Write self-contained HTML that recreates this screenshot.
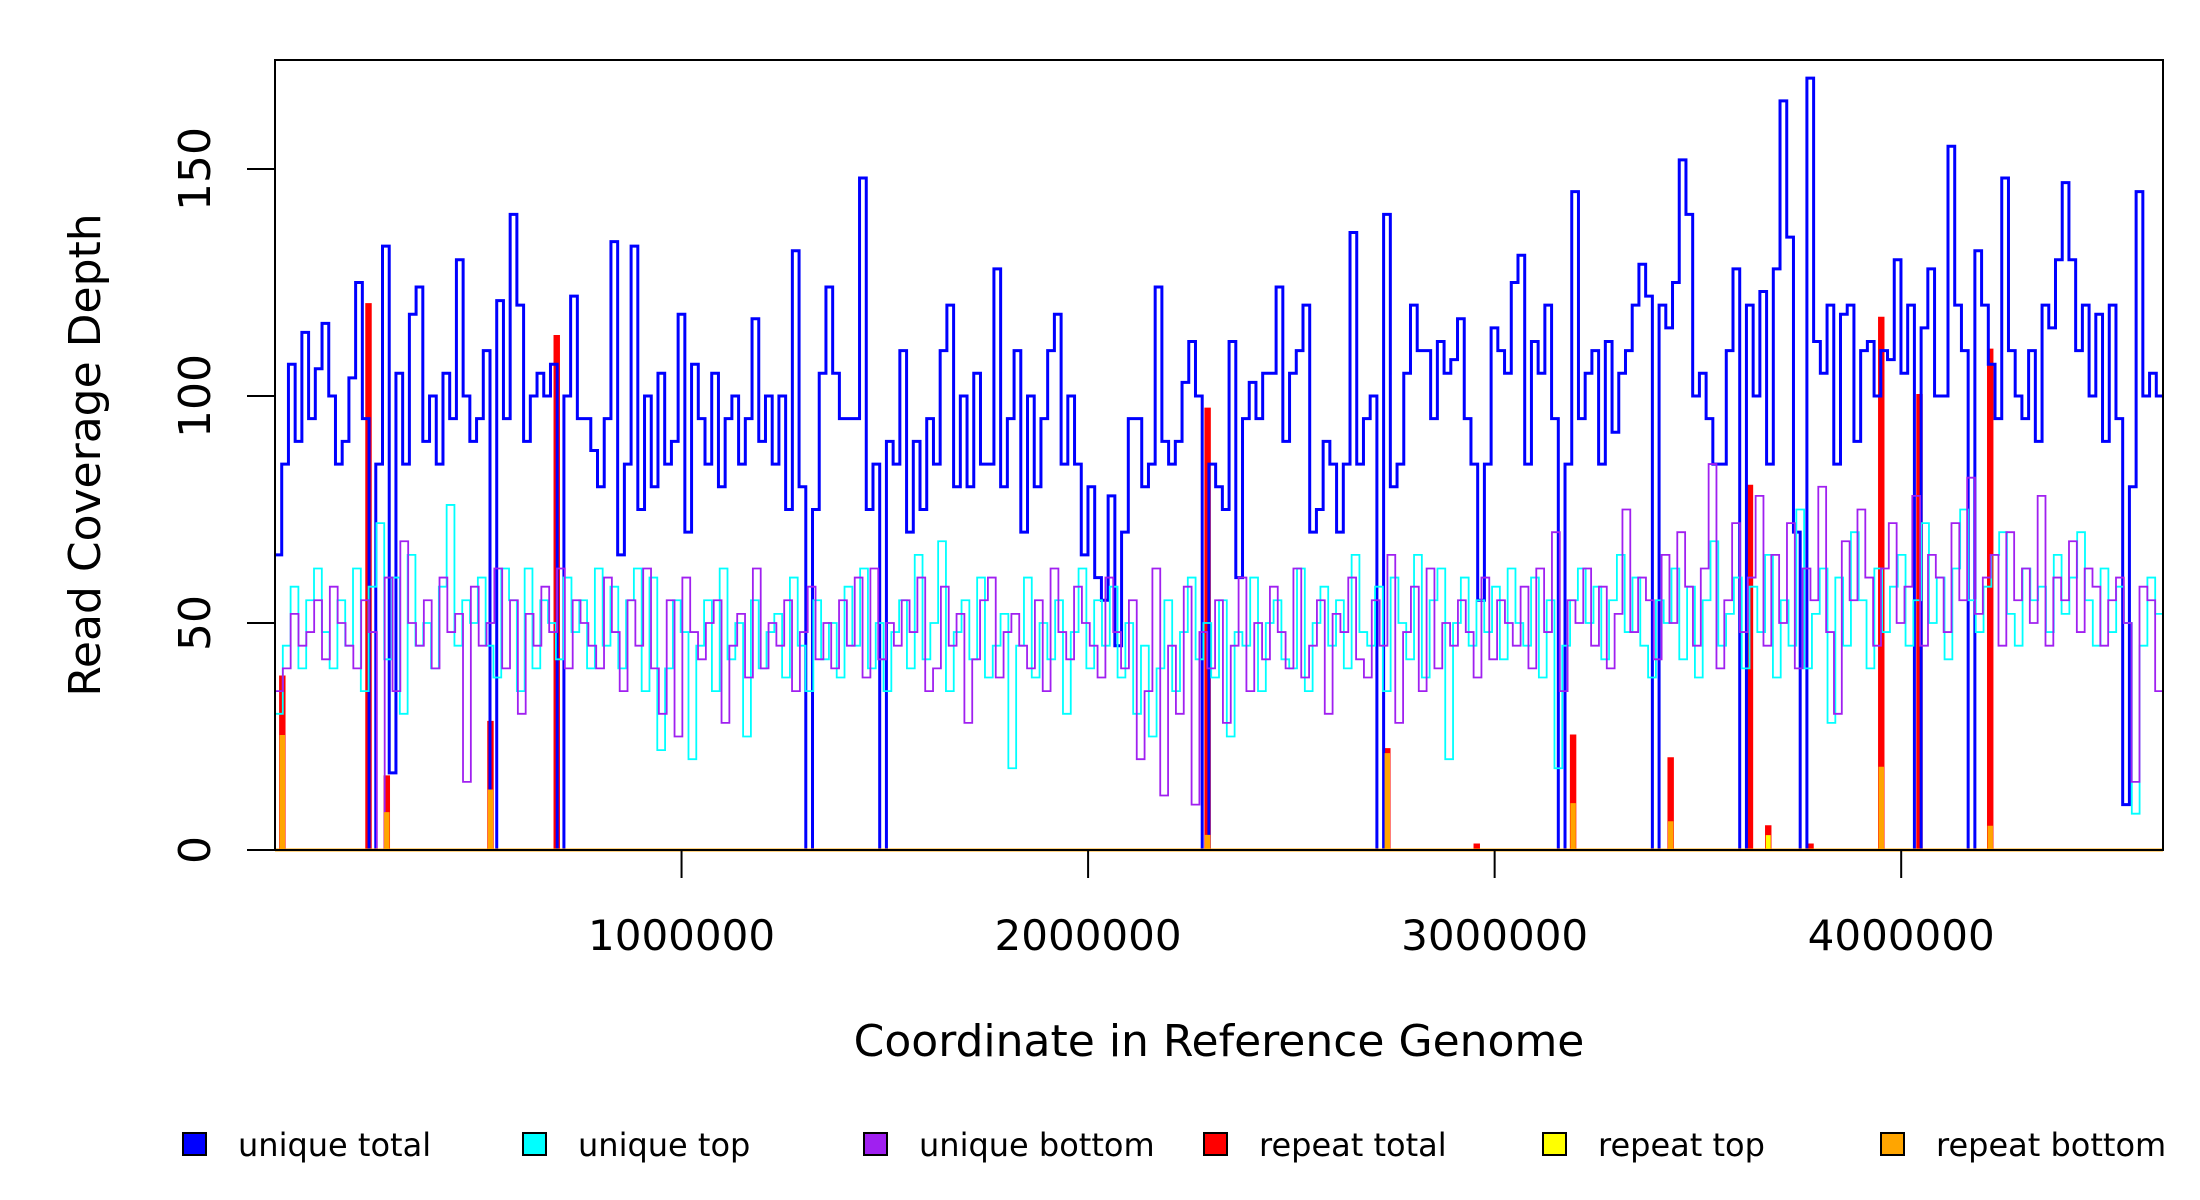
<!DOCTYPE html>
<html><head><meta charset="utf-8">
<style>
html,body{margin:0;padding:0;background:#fff;}
svg{display:block;}
text{font-family:"DejaVu Sans","Liberation Sans",sans-serif;fill:#000;}
</style></head>
<body>
<svg id="chart" width="2200" height="1200" viewBox="0 0 2200 1200" xmlns="http://www.w3.org/2000/svg">
  <g id="series"></g>
  <rect x="275" y="60" width="1888" height="790" fill="none" stroke="#000" stroke-width="2"/>
  <g id="axes"></g>
  <text transform="translate(100,455) rotate(-90)" text-anchor="middle" font-size="44">Read Coverage Depth</text>
  <text x="1219" y="1056" text-anchor="middle" font-size="44">Coordinate in Reference Genome</text>
  <g id="legend"></g>
</svg>
<script>
const genomeLength = 4644000;
const yTicks = [0, 50, 100, 150];
const xTicks = [1000000, 2000000, 3000000, 4000000];
const uniqueTotal = [65,85,107,90,114,95,106,116,100,85,90,104,125,95,0,85,133,17,105,85,118,124,90,100,85,105,95,130,100,90,95,110,0,121,95,140,120,90,100,105,100,107,0,100,122,95,95,88,80,95,134,65,85,133,75,100,80,105,85,90,118,70,107,95,85,105,80,95,100,85,95,117,90,100,85,100,75,132,80,0,75,105,124,105,95,95,95,148,75,85,0,90,85,110,70,90,75,95,85,110,120,80,100,80,105,85,85,128,80,95,110,70,100,80,95,110,118,85,100,85,65,80,60,55,78,45,70,95,95,80,85,124,90,85,90,103,112,100,0,85,80,75,112,60,95,103,95,105,105,124,90,105,110,120,70,75,90,85,70,85,136,85,95,100,0,140,80,85,105,120,110,110,95,112,105,108,117,95,85,55,85,115,110,105,125,131,85,112,105,120,95,0,85,145,95,105,110,85,112,92,105,110,120,129,122,0,120,115,125,152,140,100,105,95,85,85,110,128,0,120,100,123,85,128,165,135,70,0,170,112,105,120,85,118,120,90,110,112,100,110,108,130,105,120,0,115,128,100,100,155,120,110,0,132,120,107,95,148,110,100,95,110,90,120,115,130,147,130,110,120,100,118,90,120,95,10,80,145,100,105,100];
const uniqueTop = [30,45,58,40,55,62,48,40,55,45,62,35,58,72,42,60,30,65,45,50,40,58,76,45,55,50,60,45,38,62,55,35,62,40,55,50,42,60,48,55,40,62,45,58,40,55,62,35,60,22,40,55,48,20,45,55,35,62,42,50,25,55,40,48,52,38,60,45,35,55,42,50,38,58,45,62,40,50,35,48,55,40,65,42,50,68,35,48,55,42,60,38,45,52,18,45,60,38,50,42,55,30,48,62,40,55,45,58,38,50,30,45,25,40,55,35,48,60,42,50,38,55,25,48,45,60,35,50,55,42,40,62,35,50,58,45,55,40,65,48,45,58,35,60,50,42,65,38,55,62,20,50,60,45,55,48,58,42,62,50,45,60,38,55,18,45,55,62,50,58,42,55,65,48,60,45,38,55,50,62,42,58,38,55,68,45,52,60,40,58,48,65,38,55,45,75,40,52,62,28,60,45,70,55,40,62,48,58,65,45,55,72,50,60,42,62,75,55,48,58,65,70,52,45,62,55,58,48,65,52,60,70,55,45,62,48,58,50,8,45,60,52];
const uniqueBottom = [35,40,52,45,48,55,42,58,50,45,40,55,48,0,60,35,68,50,45,55,40,60,48,52,15,58,45,50,62,40,55,30,52,45,58,48,62,40,55,50,45,40,60,48,35,55,45,62,40,30,55,25,60,48,42,50,55,28,45,52,38,62,40,50,45,55,35,48,58,42,50,40,55,45,60,38,62,42,50,45,55,48,60,35,40,58,45,52,28,42,55,60,38,48,52,45,40,55,35,62,48,42,58,50,45,38,60,48,40,55,20,35,62,12,45,30,58,10,48,40,55,28,45,60,35,50,42,58,48,40,62,38,45,55,30,52,48,60,42,38,55,45,65,28,48,58,35,62,40,50,45,55,48,38,60,42,55,50,45,58,40,62,48,70,35,55,50,62,45,58,40,52,75,48,60,55,42,65,50,70,58,45,62,85,40,55,72,48,60,78,45,65,50,72,40,62,55,80,48,30,68,55,75,60,45,62,72,50,58,78,45,65,60,48,72,55,82,52,60,65,45,70,55,62,50,78,45,60,55,68,48,62,58,45,55,60,50,15,58,55,35];
const repeatPos = [15000,227000,272000,527000,690000,2291000,2733000,2953000,3190000,3430000,3625000,3670000,3774000,3948000,4042000,4216000];
const repeatTotal = [38,120,16,28,113,97,22,1,25,20,80,5,1,117,100,110];
const repeatTop = [24,0,0,0,0,0,0,0,0,0,0,3,0,0,0,0];
const repeatBottom = [25,0,8,13,0,3,21,0,10,6,0,0,0,18,0,5];

const NS = "http://www.w3.org/2000/svg";
const PX0 = 275, PX1 = 2163, PY0 = 850, PY1 = 60, YMAX = 174;
const xScale = v => PX0 + (v / genomeLength) * (PX1 - PX0);
const yScale = v => PY0 - (v / YMAX) * (PY0 - PY1);
const series = document.getElementById('series');
const axes = document.getElementById('axes');
const legend = document.getElementById('legend');

function stepPath(arr) {
  const w = genomeLength / arr.length;
  let d = "M" + xScale(0) + "," + yScale(arr[0]);
  for (let i = 0; i < arr.length; i++) {
    if (i > 0) d += "V" + yScale(arr[i]);
    d += "H" + xScale((i + 1) * w);
  }
  return d;
}
function spikePath(pos, vals) {
  const w = 6000;
  let d = "";
  for (let i = 0; i < pos.length; i++) {
    if (vals[i] <= 0) continue;
    d += "M" + xScale(pos[i]) + "," + yScale(0) + "V" + yScale(vals[i]) + "H" + xScale(pos[i] + w) + "V" + yScale(0);
  }
  return d || "M0,0";
}
function addPath(d, color, width, name) {
  const p = document.createElementNS(NS, 'path');
  p.setAttribute('d', d);
  p.setAttribute('fill', 'none');
  p.setAttribute('stroke', color);
  p.setAttribute('stroke-width', width);
  p.setAttribute('stroke-linejoin', 'miter');
  
  
  series.appendChild(p);
}
addPath(spikePath(repeatPos, repeatTotal), '#ff0000', 4, 'repeat-total-line');
addPath(stepPath(uniqueTotal), '#0000ff', 3, 'unique-total-line');
addPath(stepPath(uniqueTop), '#00ffff', 1.8, 'unique-top-line');
addPath(stepPath(uniqueBottom), '#a020f0', 1.8, 'unique-bottom-line');
addPath(spikePath(repeatPos, repeatTop), '#ffff00', 2.5, 'repeat-top-line');
addPath(spikePath(repeatPos, repeatBottom), '#ffa500', 3, 'repeat-bottom-line');
addPath("M" + xScale(0) + "," + yScale(0) + "H" + xScale(genomeLength), '#ffa500', 3, 'baseline');

yTicks.forEach(v => {
  const y = yScale(v);
  const l = document.createElementNS(NS, 'line');
  l.setAttribute('x1', PX0); l.setAttribute('x2', PX0 - 28);
  l.setAttribute('y1', y); l.setAttribute('y2', y);
  l.setAttribute('stroke', '#000'); l.setAttribute('stroke-width', 2);
  
  
  axes.appendChild(l);
  const t = document.createElementNS(NS, 'text');
  t.setAttribute('transform', 'translate(210,' + y + ') rotate(-90)');
  t.setAttribute('text-anchor', 'middle');
  t.setAttribute('font-size', '44');
  t.textContent = String(v);
  
  
  axes.appendChild(t);
});
xTicks.forEach(v => {
  const x = xScale(v);
  const l = document.createElementNS(NS, 'line');
  l.setAttribute('x1', x); l.setAttribute('x2', x);
  l.setAttribute('y1', PY0); l.setAttribute('y2', PY0 + 28);
  l.setAttribute('stroke', '#000'); l.setAttribute('stroke-width', 2);
  
  
  axes.appendChild(l);
  const t = document.createElementNS(NS, 'text');
  t.setAttribute('x', x); t.setAttribute('y', 950);
  t.setAttribute('text-anchor', 'middle');
  t.setAttribute('font-size', '42');
  t.textContent = String(v);
  
  
  axes.appendChild(t);
});

const legendLabels = ['unique total','unique top','unique bottom','repeat total','repeat top','repeat bottom'];
const legendColors = ['#0000ff','#00ffff','#a020f0','#ff0000','#ffff00','#ffa500'];
const legendX = [194,534,875,1215,1554,1892];
legendLabels.forEach((lab, i) => {
  const g = document.createElementNS(NS, 'g');
  
  
  const r = document.createElementNS(NS, 'rect');
  r.setAttribute('x', legendX[i] - 11); r.setAttribute('y', 1133);
  r.setAttribute('width', 23); r.setAttribute('height', 22);
  r.setAttribute('fill', legendColors[i]); r.setAttribute('stroke', '#000'); r.setAttribute('stroke-width', 2);
  
  
  g.appendChild(r);
  const t = document.createElementNS(NS, 'text');
  t.setAttribute('x', legendX[i] + 44); t.setAttribute('y', 1156);
  t.setAttribute('font-size', '32');
  t.textContent = lab;
  
  
  g.appendChild(t);
  legend.appendChild(g);
});
</script>
</body></html>
